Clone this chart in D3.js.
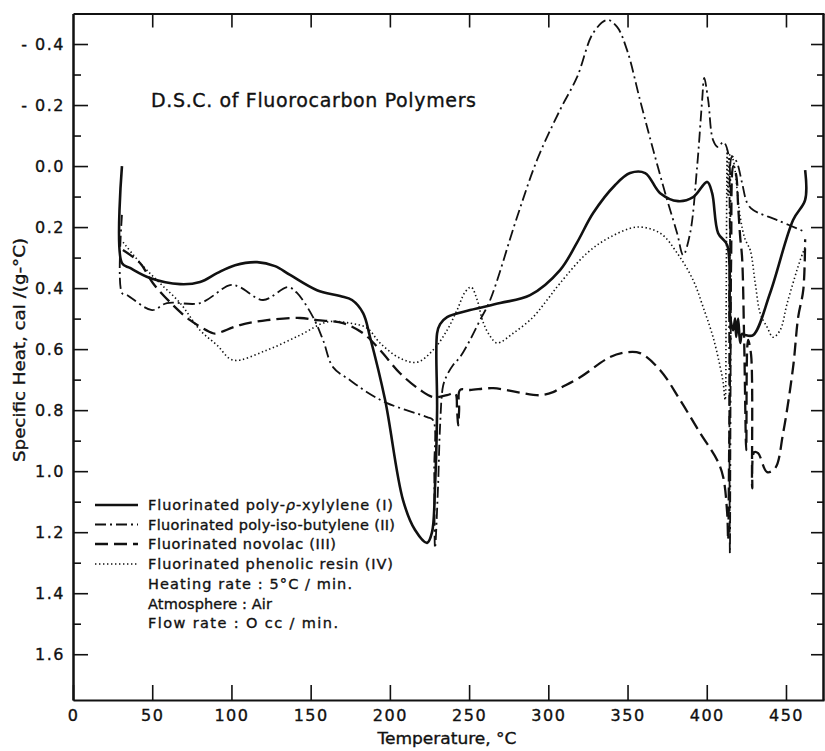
<!DOCTYPE html>
<html>
<head>
<meta charset="utf-8">
<script src="https://cdn.jsdelivr.net/npm/d3@7"></script>
<style>
body { margin: 0; background: #fff; }
svg text { font-family: "DejaVu Sans", sans-serif; fill: #111; stroke: #111; stroke-width: 0.35px; }
</style>
</head>
<body>
<svg id="chart" width="825" height="751"></svg>
<script>
// tick values
var xTicks = [0, 50, 100, 150, 200, 250, 300, 350, 400, 450];
var yMajor = [-0.4, -0.2, 0.0, 0.2, 0.4, 0.6, 0.8, 1.0, 1.2, 1.4, 1.6];
var yMinor = [-0.3, -0.1, 0.1, 0.3, 0.5, 0.7, 0.9, 1.1, 1.3, 1.5];

var legendLabels = ["Fluorinated poly-", "Fluorinated poly-iso-butylene (II)",
  "Fluorinated novolac (III)", "Fluorinated phenolic resin (IV)"];
var notes = ["Heating rate :  5°C / min.", "Atmosphere : Air", "Flow rate : O cc / min."];

// [temperature °C, specific heat cal/(g-°C)]
var polyXylylene = [[30.9,0.0],[30.9,0.318],[36.0,0.334],[48.6,0.367],[67.6,0.387],[80.2,0.380],
  [90.9,0.351],[102.3,0.325],[116.2,0.315],[127.5,0.328],[137.0,0.357],[154.0,0.407],[168.6,0.426],
  [176.1,0.439],[183.1,0.482],[187.5,0.561],[197.0,0.767],[208.3,1.095],[215.9,1.193],[223.5,1.235],
  [226.6,1.20],[228.5,1.05],[229.8,0.80],[229.8,0.548],[231.7,0.518],[236.1,0.495],[250.6,0.472],
  [269.6,0.449],[288.5,0.423],[307.4,0.341],[318.2,0.25],[328.3,0.154],[342.2,0.062],[351.6,0.023],
  [361.1,0.023],[370.6,0.089],[381.9,0.115],[391.4,0.102],[400.3,0.052],[403.4,0.089],[407.2,0.220],
  [412.9,0.259],[414.8,0.495],[416.7,0.538],[417.9,0.50],[418.6,0.56],[419.8,0.50],[421.1,0.58],
  [422.3,0.55],[424.2,0.554],[429.3,0.554],[440.0,0.416],[454.5,0.177],[462.1,0.111],[462.1,0.013]];

var polyIsoButylene = [[30.9,0.16],[30.9,0.416],[34.1,0.423],[49.9,0.472],[59.3,0.449],[80.2,0.449],
  [99.1,0.390],[105.4,0.397],[119.9,0.439],[135.7,0.397],[141.4,0.416],[151.5,0.495],[157.8,0.570],
  [164.1,0.659],[174.9,0.702],[185.6,0.741],[198.2,0.777],[223.5,0.823],[227.3,0.833],[228.0,1.0],
  [228.5,1.252],[230.4,1.05],[231.7,0.85],[233.6,0.72],[236.1,0.685],[239.9,0.652],[244.3,0.626],
  [250.6,0.570],[256.9,0.505],[263.3,0.439],[280.3,0.167],[292.9,-0.020],[307.4,-0.184],[318.2,-0.292],
  [328.3,-0.436],[337.1,-0.479],[343.4,-0.456],[349.7,-0.380],[357.9,-0.216],[366.2,-0.053],
  [375.0,0.111],[381.3,0.220],[385.1,0.292],[389.5,0.220],[393.9,0.003],[397.1,-0.216],[398.4,-0.289],
  [400.9,-0.216],[404.0,-0.085],[407.2,-0.062],[410.4,-0.079],[413.5,-0.043],[414.1,0.5],[414.6,1.27],
  [415.2,0.5],[415.8,-0.03],[416.7,-0.03],[419.2,-0.010],[422.3,0.056],[425.5,0.121],[429.3,0.144],
  [444.4,0.177],[462.1,0.216]];

var novolac = [[31.5,0.275],[42.3,0.318],[50.5,0.384],[61.2,0.446],[73.9,0.505],[88.4,0.548],
  [90.9,0.548],[105.4,0.521],[122.5,0.505],[143.3,0.498],[154.0,0.505],[170.5,0.515],[183.1,0.548],
  [193.8,0.603],[206.4,0.679],[219.1,0.734],[227.3,0.757],[236.1,0.751],[241.2,0.745],[242.4,0.80],
  [243.1,0.85],[243.7,0.80],[244.3,0.734],[250.6,0.734],[265.2,0.728],[280.3,0.741],[294.8,0.751],
  [303.0,0.741],[307.4,0.728],[320.1,0.692],[339.0,0.626],[349.7,0.610],[357.9,0.613],[370.6,0.669],
  [383.2,0.767],[395.8,0.875],[406.6,0.964],[410.4,1.020],[412.9,1.138],[413.5,1.226],[414.1,0.95],
  [414.8,0.6],[415.4,0.3],[416.7,0.0],[418.6,0.03],[419.8,0.13],[421.1,0.233],[422.3,0.30],
  [423.6,0.57],[424.9,0.931],[425.5,0.6],[426.1,0.57],[428.0,0.62],[428.7,1.056],[429.9,0.938],
  [432.4,0.941],[438.1,1.003],[443.2,0.990],[448.2,0.875],[454.5,0.659],[457.7,0.495],[460.9,0.407],
  [462.1,0.24]];

var phenolicResin = [[31.6,0.25],[44.2,0.328],[54.9,0.384],[67.6,0.449],[80.2,0.538],[90.9,0.587],
  [101.0,0.636],[122.5,0.603],[143.3,0.554],[160.4,0.511],[174.9,0.515],[185.6,0.531],[193.8,0.580],
  [206.4,0.630],[217.2,0.643],[227.3,0.603],[236.1,0.538],[242.4,0.472],[247.5,0.413],[251.3,0.397],
  [255.1,0.439],[258.8,0.511],[263.3,0.558],[267.7,0.580],[277.8,0.548],[290.4,0.495],[299.2,0.439],
  [307.4,0.384],[324.5,0.285],[339.0,0.233],[356.1,0.200],[370.6,0.220],[381.3,0.285],[391.4,0.374],
  [397.7,0.462],[404.0,0.561],[408.5,0.659],[410.4,0.711],[411.6,0.767],[412.2,0.5],[412.9,-0.053],
  [413.5,0.1],[414.8,-0.04],[416.7,-0.02],[421.1,0.167],[424.2,0.24],[427.4,0.275],[430.6,0.384],
  [433.7,0.482],[438.1,0.528],[441.9,0.561],[446.3,0.538],[450.8,0.449],[459.0,0.308],[462.1,0.266]];

var series = [
  { data: polyXylylene, width: 2.6, dash: null },
  { data: polyIsoButylene, width: 1.8, dash: "11,4,2,4" },
  { data: novolac, width: 2.3, dash: "13,6" },
  { data: phenolicResin, width: 1.6, dash: "1.4,2.6" }
];

var svg = d3.select("#chart");

var x = d3.scaleLinear().domain([0, 474]).range([73, 824]);
var y = d3.scaleLinear().domain([-0.5, 1.75]).range([13.5, 700]);

function fmtY(d) {
  return d < 0 ? "- " + d3.format(".1f")(-d) : d3.format(".1f")(d);
}

function styleAxis(g) {
  g.select(".domain").attr("stroke", "#111").attr("stroke-width", 2);
  g.selectAll(".tick line").attr("stroke", "#111").attr("stroke-width", 1.6);
  g.selectAll(".tick text").style("font-size", "16px").style("letter-spacing", "1.5px").attr("fill", "#111");
}

// left axis with labels
svg.append("g").attr("transform", "translate(73,0)")
  .call(d3.axisLeft(y).tickValues(yMajor).tickSize(-15).tickSizeOuter(0).tickPadding(8).tickFormat(fmtY))
  .call(styleAxis);
svg.append("g").attr("transform", "translate(73,0)")
  .call(d3.axisLeft(y).tickValues(yMinor).tickSize(-8).tickSizeOuter(0).tickFormat(""))
  .call(styleAxis);

// right axis, ticks only
svg.append("g").attr("transform", "translate(823,0)")
  .call(d3.axisRight(y).tickValues(yMajor).tickSize(-12).tickSizeOuter(0).tickFormat(""))
  .call(styleAxis);
svg.append("g").attr("transform", "translate(823,0)")
  .call(d3.axisRight(y).tickValues(yMinor).tickSize(-6).tickSizeOuter(0).tickFormat(""))
  .call(styleAxis);

// bottom and top
svg.append("g").attr("transform", "translate(0,700)")
  .call(d3.axisBottom(x).tickValues(xTicks).tickSize(-15).tickSizeOuter(0).tickPadding(10).tickFormat(d3.format("d")))
  .call(styleAxis);
svg.append("g").attr("transform", "translate(0,13.5)")
  .call(d3.axisTop(x).tickValues(xTicks.slice(1)).tickSize(-14).tickSizeOuter(0).tickFormat(""))
  .call(styleAxis);

// curves
var line = d3.line()
  .x(function(d) { return x(d[0]); })
  .y(function(d) { return y(d[1]); })
  .curve(d3.curveCatmullRom.alpha(0.5));

series.forEach(function(s) {
  svg.append("path")
    .datum(s.data)
    .attr("d", line)
    .attr("fill", "none")
    .attr("stroke", "#111")
    .attr("stroke-width", s.width)
    .attr("stroke-linejoin", "round")
    .attr("stroke-dasharray", s.dash);
});

// title
svg.append("text")
  .attr("x", 151).attr("y", 107)
  .attr("textLength", 325).attr("lengthAdjust", "spacing")
  .style("font-size", "19px")
  .text("D.S.C. of Fluorocarbon Polymers");

// axis titles
svg.append("text")
  .attr("transform", "translate(25,350) rotate(-90)")
  .attr("text-anchor", "middle")
  .attr("textLength", 224).attr("lengthAdjust", "spacingAndGlyphs")
  .style("font-size", "16px")
  .text("Specific Heat, cal /(g-°C)");

svg.append("text")
  .attr("x", 447).attr("y", 744)
  .attr("text-anchor", "middle")
  .attr("textLength", 139).attr("lengthAdjust", "spacingAndGlyphs")
  .style("font-size", "16px")
  .text("Temperature, °C");

// legend
var legRowY = [505, 524.5, 544, 564];
var legEnd = [393, 395, 336, 393];
var legend = svg.append("g");

series.forEach(function(s, i) {
  legend.append("line")
    .attr("x1", 95).attr("x2", 138)
    .attr("y1", legRowY[i]).attr("y2", legRowY[i])
    .attr("stroke", "#111")
    .attr("stroke-width", s.width)
    .attr("stroke-dasharray", s.dash);

  var t = legend.append("text")
    .attr("x", 148).attr("y", legRowY[i] + 5)
    .attr("textLength", legEnd[i] - 148).attr("lengthAdjust", "spacing")
    .style("font-size", "14.5px");
  t.append("tspan").text(legendLabels[i]);
  if (i == 0) {
    t.append("tspan").style("font-style", "italic").text("ρ");
    t.append("tspan").text("-xylylene (I)");
  }
});

var noteRowY = [589, 609, 628];
var noteEnd = [352, 272, 338];
notes.forEach(function(n, i) {
  legend.append("text")
    .attr("x", 148).attr("y", noteRowY[i])
    .attr("textLength", noteEnd[i] - 148).attr("lengthAdjust", "spacing")
    .style("font-size", "14.5px")
    .text(n);
});
</script>
</body>
</html>
